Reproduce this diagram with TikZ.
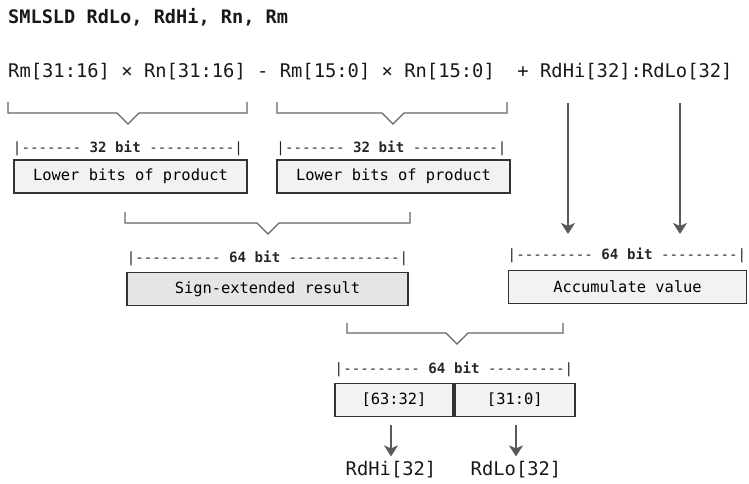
\documentclass[tikz,border=0pt]{standalone}
\usepackage{fontspec}
\newfontfamily\mono{DejaVu Sans Mono}
\usetikzlibrary{arrows.meta}

\begin{document}
\begin{tikzpicture}[x=1pt,y=-1pt,
  brk/.style={draw=black!60,line width=1.3pt,line join=miter},
  bx/.style={draw=black!80,line width=1.8pt,fill=black!5,minimum height=33pt,inner sep=0pt,font=\fontsize{15.4}{16}\mono},
  dim/.style={inner sep=0pt,text=black!85,font=\fontsize{14.15}{15}\mono},
  lbl/.style={inner sep=0pt,text=black!90,font=\fontsize{18.8}{20}\mono},
  arr/.style={draw=black!65,line width=2pt,-{Stealth[length=11pt,width=14pt,inset=3pt]}}]
\useasboundingbox (0,0) rectangle (749,484);

% header and operands
\node[lbl,anchor=west,font=\fontsize{18.6}{20}\mono\bfseries] (title) at (8,17) {SMLSLD RdLo, RdHi, Rn, Rm};
\node[lbl,anchor=west] (expr) at (8,72) {Rm[31:16] × Rn[31:16] - Rm[15:0] × Rn[15:0]\ \ + RdHi[32]:RdLo[32]};

% products
\draw[brk] (8,102) -- (8,113) -- (117,113) -- (128,124) -- (139,113) -- (247,113) -- (247,102);
\draw[brk] (277,102) -- (277,113) -- (382,113) -- (393,124) -- (404,113) -- (507,113) -- (507,102);
\node[dim] (dimA) at (128,148) {|------- \textbf{32 bit} ----------|};
\node[dim] (dimB) at (391.5,148) {|------- \textbf{32 bit} ----------|};
\node[bx,minimum width=233pt] (prodA) at (130.5,176.5) {Lower bits of product};
\node[bx,minimum width=233pt] (prodB) at (393.5,176.5) {Lower bits of product};

% difference
\draw[brk] (125,212) -- (125,223) -- (257,223) -- (268,234) -- (279,223) -- (410,223) -- (410,212);
\node[dim] (dimC) at (267.5,258) {|---------- \textbf{64 bit} -------------|};
\node[bx,minimum width=281pt,fill=black!10] (sext) at (267.5,289) {Sign-extended result};

% accumulator
\coordinate (accHi) at (568,103);
\coordinate (accLo) at (680,103);
\node[dim] (dimD) at (627,255) {|--------- \textbf{64 bit} ---------|};
\node[bx,minimum width=238pt] (acc) at (627.5,287) {Accumulate value};
\draw[arr] (accHi) -- ++(0,131);
\draw[arr] (accLo) -- ++(0,131);

% result
\draw[brk] (347,323) -- (347,333) -- (446,333) -- (457,344) -- (468,333) -- (563,333) -- (563,323);
\node[dim] (dimE) at (454,369) {|--------- \textbf{64 bit} ---------|};
\node[bx,minimum width=118pt] (hi) at (394,400) {[63:32]};
\node[bx,minimum width=120pt,anchor=west] (lo) at (hi.east) {[31:0]};
\node[lbl] (rdhi) at (391,470) {RdHi[32]};
\node[lbl] (rdlo) at (516,470) {RdLo[32]};
\draw[arr,shorten <=8pt] (rdhi.north |- hi.south) -- ([yshift=5pt]rdhi.north);
\draw[arr,shorten <=8pt] (rdlo.north |- lo.south) -- ([yshift=5pt]rdlo.north);
\end{tikzpicture}
\end{document}
